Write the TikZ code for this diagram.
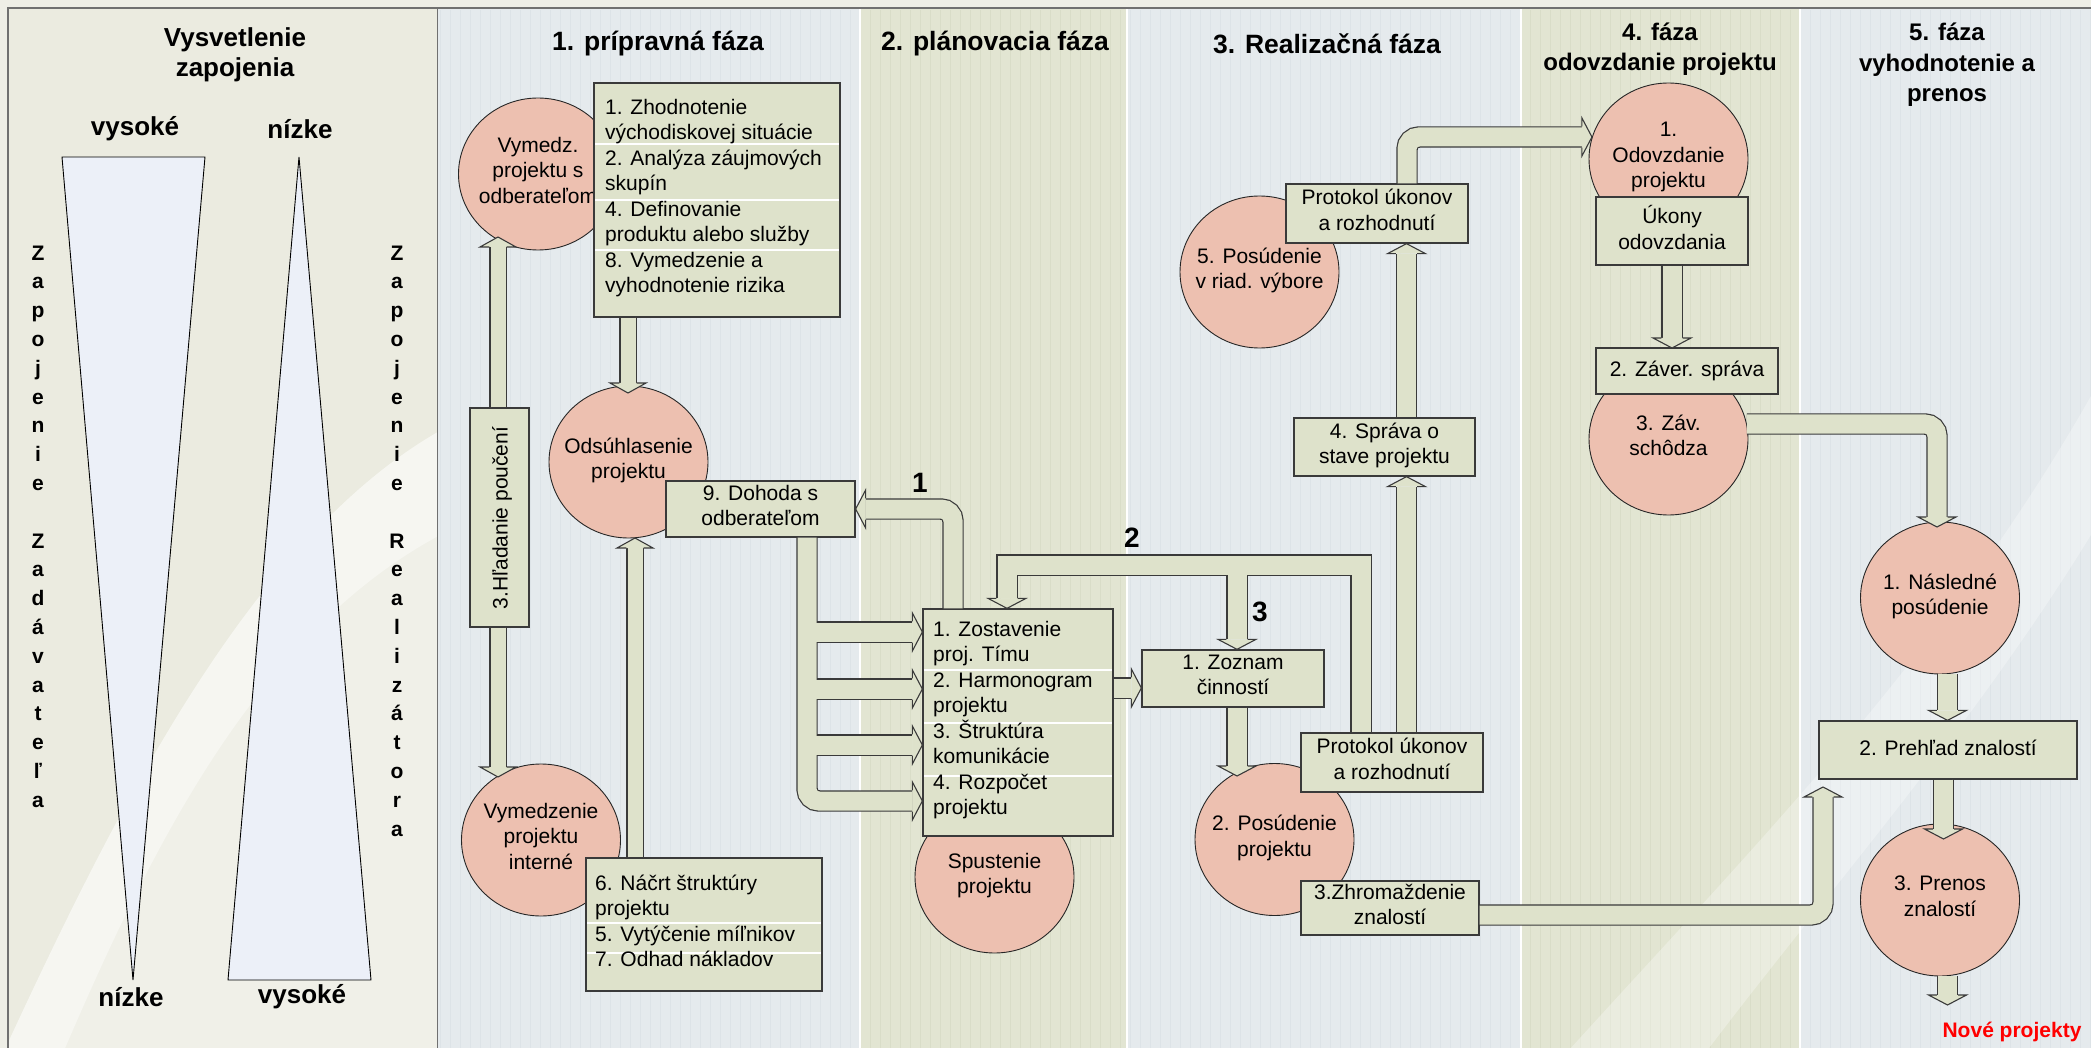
\documentclass[tikz,border=0pt]{standalone}
\usepackage{fontspec}
\setmainfont{Liberation Sans}
\usetikzlibrary{shapes.geometric,calc}
\definecolor{circfill}{HTML}{EDC0B0}
\definecolor{boxfill}{HTML}{DEE2CB}
\definecolor{edgec}{HTML}{3A3A3A}
\definecolor{bluebg}{HTML}{E5EAED}
\definecolor{greenbg}{HTML}{E2E5D2}
\definecolor{bluegrid}{HTML}{DDE3E7}
\definecolor{greengrid}{HTML}{D9DDC8}
\definecolor{leftbg}{HTML}{EBEBE0}
\definecolor{framec}{HTML}{EEEEE6}
\definecolor{trifill}{HTML}{ECF0F8}
\definecolor{framel}{HTML}{707070}
\newcommand\bodyfont{\fontsize{21}{25.5}\selectfont}
\newcommand\lefthead{\bfseries\fontsize{26}{30}\selectfont}
\newcommand\colhead{\bfseries\fontsize{26.5}{31}\selectfont}
\newcommand\colheadb{\bfseries\fontsize{24}{30.5}\selectfont}
\newcommand\vertfont{\bfseries\fontsize{21}{28.8}\selectfont}
\newcommand\numfont{\bfseries\fontsize{28}{30}\selectfont}
\newcommand\blk[4][]{\draw[bout,#1] #2; \draw[bin,#1] #2; \pic[rotate=#4] at #3 {hd};}
\newcommand\blkt[4][]{\draw[boutt,#1] #2; \draw[bint,#1] #2; \pic[rotate=#4] at #3 {hdt};}
\tikzset{
  circ/.style={ellipse, draw=black!85, line width=0.9, fill=circfill, minimum width=159, minimum height=152, inner sep=0},
  ctext/.style={align=center, font=\bodyfont, inner sep=0, execute at begin node=\strut, execute at end node=\strut},
  boxn/.style={rectangle, draw=edgec, line width=1.3, fill=boxfill, inner sep=0, align=center, font=\bodyfont, execute at begin node=\strut, execute at end node=\strut},
  listtxt/.style={inner sep=0, align=left, font=\bodyfont, anchor=north west, execute at begin node=\strut, execute at end node=\strut},
  sepline/.style={white, line width=1.3},
  hdtxt/.style={align=center, inner sep=0},
  bout/.style={line width=21.4, draw=edgec, shorten >=10},
  bin/.style={line width=19, draw=boxfill, shorten >=10},
  boutt/.style={line width=17.4, draw=edgec, shorten >=10},
  bint/.style={line width=15, draw=boxfill, shorten >=10},
  pics/hd/.style={code={
     \fill[boxfill] (-10,-19) -- (0,0) -- (-10,19) -- cycle;
     \draw[edgec, line width=1.1, line join=miter] (-10,-10.7) -- (-10,-19) -- (0,0) -- (-10,19) -- (-10,10.7);}},
  pics/hdt/.style={code={
     \fill[boxfill] (-10,-18) -- (0,0) -- (-10,18) -- cycle;
     \draw[edgec, line width=1.1, line join=miter] (-10,-8.7) -- (-10,-18) -- (0,0) -- (-10,18) -- (-10,8.7);}},
}
\begin{document}
\begin{tikzpicture}[x=1pt,y=-1pt]
\useasboundingbox (0,0) rectangle (2091,1048);
% ---------- background ----------
\fill[framec] (0,0) rectangle (2091,1048);
\fill[leftbg] (8,8) rectangle (438,1048);
\begin{scope}
  \clip (8,8) rectangle (437,1048);
  \fill[white, opacity=0.28] (0,1060) .. controls (120,800) and (260,520) .. (460,420) -- (460,1060) -- cycle;
  \fill[white, opacity=0.4] (0,1060) .. controls (120,800) and (260,520) .. (460,420) -- (460,525) .. controls (260,620) and (150,850) .. (60,1060) -- cycle;
\end{scope}
\fill[bluebg] (438,8) rectangle (860,1048);
\fill[greenbg] (860,8) rectangle (1127,1048);
\fill[bluebg] (1127,8) rectangle (1521,1048);
\fill[greenbg] (1521,8) rectangle (1800,1048);
\fill[bluebg] (1800,8) rectangle (2091,1048);
\draw[bluegrid, line width=0.4, step=10] (440,10) grid (859,1048);
\draw[greengrid, line width=0.4, step=10] (861,10) grid (1126,1048);
\draw[bluegrid, line width=0.4, step=10] (1128,10) grid (1520,1048);
\draw[greengrid, line width=0.4, step=10] (1522,10) grid (1799,1048);
\draw[bluegrid, line width=0.4, step=10] (1801,10) grid (2091,1048);
\begin{scope}
  \clip (1521,8) rectangle (2091,1048);
  \fill[white, opacity=0.3] (1560,1060) .. controls (1750,850) and (1950,650) .. (2100,380) -- (2100,520) .. controls (1980,720) and (1820,900) .. (1700,1060) -- cycle;
\end{scope}
\foreach \xx in {860,1127,1521,1800} \draw[white, line width=2] (\xx,9) -- (\xx,1048);
\draw[framel, line width=1.4] (8,1048) -- (8,8) -- (2091,8);
\draw[framel, line width=1.4] (437.5,8) -- (437.5,1048);
% ---------- left panel ----------
\node[hdtxt, font=\lefthead] (lh) at (235,55) {Vysvetlenie\\zapojenia};
\node[hdtxt, font=\lefthead] (vys1) at (135,129) {vysoké};
\node[hdtxt, font=\lefthead] (niz1) at (300,129) {nízke};
\node[hdtxt, font=\lefthead] (niz2) at (131,997) {nízke};
\node[hdtxt, font=\lefthead] (vys2) at (302,997) {vysoké};
\draw[fill=trifill, line width=0.9] (62,157) -- (205,157) -- (133,980) -- cycle;
\draw[fill=trifill, line width=0.9] (299,157) -- (371,980) -- (228,980) -- cycle;
\node[hdtxt, font=\vertfont] (zl) at (38,526.5) {Z\\a\\p\\o\\j\\e\\n\\i\\e\\\mbox{}\\Z\\a\\d\\á\\v\\a\\t\\e\\ľ\\a};
\node[hdtxt, font=\vertfont] (zr) at (397,541) {Z\\a\\p\\o\\j\\e\\n\\i\\e\\\mbox{}\\R\\e\\a\\l\\i\\z\\á\\t\\o\\r\\a};
% ---------- column headings ----------
\node[hdtxt, font=\colhead] (h1) at (658,44) {1. prípravná fáza};
\node[hdtxt, font=\colhead] (h2) at (995,44) {2. plánovacia fáza};
\node[hdtxt, font=\colhead] (h3) at (1327,44) {3. Realizačná fáza};
\node[hdtxt, font=\colheadb] (h4) at (1660,49) {4. fáza\\odovzdanie projektu};
\node[hdtxt, font=\colheadb] (h5) at (1947,65) {5. fáza\\vyhodnotenie a\\prenos};
% ---------- circles ----------
\node[circ] (A) at (538,174) {};
\node[ctext] (At) at (A) {Vymedz.\\projektu s\\odberateľom};
\node[circ] (C) at (628.5,462) {};
\node[ctext] (Ct) at (C) {Odsúhlasenie\\projektu};
\node[circ] (F) at (541,840) {};
\node[ctext] (Ft) at (F) {Vymedzenie\\projektu\\interné};
\node[circ] (I) at (994.5,877) {};
\node[ctext] (It) at (I) {Spustenie\\projektu};
\node[circ] (K) at (1274.5,839.5) {};
\node[ctext] (Kt) at (K) {2. Posúdenie\\projektu};
\node[circ] (Q) at (1259.5,272) {};
\node[ctext] (Qt) at (Q) {5. Posúdenie\\v riad. výbore};
\node[circ] (P) at (1668.5,159) {};
\node[ctext] (Pt) at (P) {1.\\Odovzdanie\\projektu};
\node[circ] (T) at (1668.5,439) {};
\node[ctext] (Tt) at (T) {3. Záv.\\schôdza};
\node[circ] (U) at (1940,598) {};
\node[ctext] (Ut) at (U) {1. Následné\\posúdenie};
\node[circ] (W) at (1940,900) {};
\node[ctext] (Wt) at (W) {3. Prenos\\znalostí};
% ---------- boxes ----------
\node[boxn, minimum width=246, minimum height=234] (B) at (717,200) {};
\draw[sepline] (595,144) -- (839,144) (595,200) -- (839,200) (595,250) -- (839,250);
\node[listtxt] (Bt) at (605,98.7) {1. Zhodnotenie\\východiskovej situácie\\2. Analýza záujmových\\skupín\\4. Definovanie\\produktu alebo služby\\8. Vymedzenie a\\vyhodnotenie rizika};
\node[boxn, minimum width=189, minimum height=56] (D) at (760.5,509) {9. Dohoda s\\odberateľom};
\node[boxn, minimum width=59, minimum height=219] (E) at (499.5,517.5) {};
\node[rotate=90, font=\bodyfont, inner sep=0] (Et) at (502,518) {3.Hľadanie poučení};
\node[boxn, minimum width=236, minimum height=133] (G) at (704,924.5) {};
\draw[sepline] (587,923) -- (821,923) (587,953) -- (821,953);
\node[listtxt] (Gt) at (595,874.7) {6. Náčrt štruktúry\\projektu\\5. Vytýčenie míľnikov\\7. Odhad nákladov};
\node[boxn, minimum width=190, minimum height=227] (H) at (1018,722.5) {};
\draw[sepline] (924,670) -- (1112,670) (924,723) -- (1112,723) (924,776) -- (1112,776);
\node[listtxt] (Ht) at (933,620.7) {1. Zostavenie\\proj. Tímu\\2. Harmonogram\\projektu\\3. Štruktúra\\komunikácie\\4. Rozpočet\\projektu};
\node[boxn, minimum width=182, minimum height=57] (J) at (1233,678.5) {1. Zoznam\\činností};
\node[boxn, minimum width=182, minimum height=59] (L) at (1392,762.5) {Protokol úkonov\\a rozhodnutí};
\node[boxn, minimum width=178, minimum height=54] (M) at (1390,908) {3.Zhromaždenie\\znalostí};
\node[boxn, minimum width=181, minimum height=58] (N) at (1384.5,447) {4. Správa o\\stave projektu};
\node[boxn, minimum width=182, minimum height=59] (O) at (1377,213.5) {Protokol úkonov\\a rozhodnutí};
\node[boxn, minimum width=152, minimum height=68] (R) at (1672,231) {Úkony\\odovzdania};
\node[boxn, minimum width=182, minimum height=46] (S) at (1687,371) {2. Záver. správa};
\node[boxn, minimum width=258, minimum height=58] (V) at (1948,750) {2. Prehľad znalostí};
% ---------- block arrows ----------
\coordinate (tBC) at (628,393);
\blkt{(B.south -| tBC) -- (tBC)}{(tBC)}{-90}
\coordinate (tEA) at (498,237);
\blkt{(E.north -| tEA) -- (tEA)}{(tEA)}{90}
\coordinate (tEF) at (498,777);
\blkt{(E.south -| tEF) -- (tEF)}{(tEF)}{-90}
\coordinate (tGC) at (635,538);
\blkt{(G.north -| tGC) -- (tGC)}{(tGC)}{90}
% manifold from D to H
\coordinate (m1) at (807,632);
\coordinate (m2) at (807,689);
\coordinate (m3) at (807,745);
\coordinate (m4) at (807,801);
\draw[bout, rounded corners=12] (D.south -| m4) -- (m4) -- (H.west |- m4);
\foreach \m in {m1,m2,m3} \draw[bout] (\m) -- (H.west |- \m);
\draw[bin, rounded corners=12] (D.south -| m4) -- (m4) -- (H.west |- m4);
\foreach \m in {m1,m2,m3} \draw[bin] (\m) -- (H.west |- \m);
\foreach \m in {m1,m2,m3,m4} \pic at (H.west |- \m) {hd};
% arrow 1
\coordinate (c1) at (953,509);
\blk[rounded corners=12]{(H.north -| c1) -- (c1) -- (D.east)}{(D.east)}{180}
% arrow 2 and 3
\coordinate (c2r) at (1361,565);
\coordinate (c2l) at (1007,565);
\coordinate (c3) at (1237,565);
\draw[bout] (L.north -| c2r) -- (c2r) -- (c2l) [rounded corners=12] -- (H.north -| c2l);
\draw[bout] (c3) -- (J.north -| c3);
\draw[bin] (L.north -| c2r) -- (c2r) -- (c2l) [rounded corners=12] -- (H.north -| c2l);
\draw[bin] (c3) -- (J.north -| c3);
\pic[rotate=-90] at (H.north -| c2l) {hd};
\pic[rotate=-90] at (J.north -| c3) {hd};
% H -> J
\coordinate (hj) at (1125,688);
\blk{(H.east |- hj) -- (J.west |- hj)}{(J.west |- hj)}{0}
% J -> K
\coordinate (tJK) at (1237,776);
\blk{(J.south -| tJK) -- (tJK)}{(tJK)}{-90}
% L -> N -> O
\coordinate (xLN) at (1406.5,600);
\blk{(L.north -| xLN) -- (N.south -| xLN)}{(N.south -| xLN)}{90}
\blk{(N.north -| xLN) -- (O.south -| xLN)}{(O.south -| xLN)}{90}
% O -> P
\coordinate (cOP) at (1407,137);
\blk[rounded corners=12]{(O.north -| cOP) -- (cOP) -- (P.164 |- cOP)}{(P.164 |- cOP)}{0}
% R -> S
\coordinate (tRS) at (1672,348);
\blk{(R.south -| tRS) -- (tRS)}{(tRS)}{-90}
% T -> U
\coordinate (cTU) at (1937,424);
\coordinate (tTU) at (1937,527);
\blk[rounded corners=12]{(T.11 |- cTU) -- (cTU) -- (tTU)}{(tTU)}{-90}
% U -> V
\coordinate (xUV) at (1947.5,700);
\blk{(U.south -| xUV) -- (V.north -| xUV)}{(V.north -| xUV)}{-90}
% V -> W
\coordinate (tVW) at (1943.5,839);
\blk{(V.south -| tVW) -- (tVW)}{(tVW)}{-90}
% W -> new projects
\coordinate (endW) at (1947.5,1005);
\blk{(W.south -| endW) -- (endW)}{(endW)}{-90}
% M -> V
\coordinate (cMV) at (1823,915);
\coordinate (tMV) at (1823,787);
\blk[rounded corners=12]{(M.east |- cMV) -- (cMV) -- (tMV)}{(tMV)}{90}
% ---------- labels ----------
\node[hdtxt, font=\numfont] (n1) at (920,483) {1};
\node[hdtxt, font=\numfont] (n2) at (1132,538) {2};
\node[hdtxt, font=\numfont] (n3) at (1260,612) {3};
\node[hdtxt, font=\bfseries\fontsize{21}{25}\selectfont, text=red] (np) at (2012,1032) {Nové projekty};
\end{tikzpicture}
\end{document}
